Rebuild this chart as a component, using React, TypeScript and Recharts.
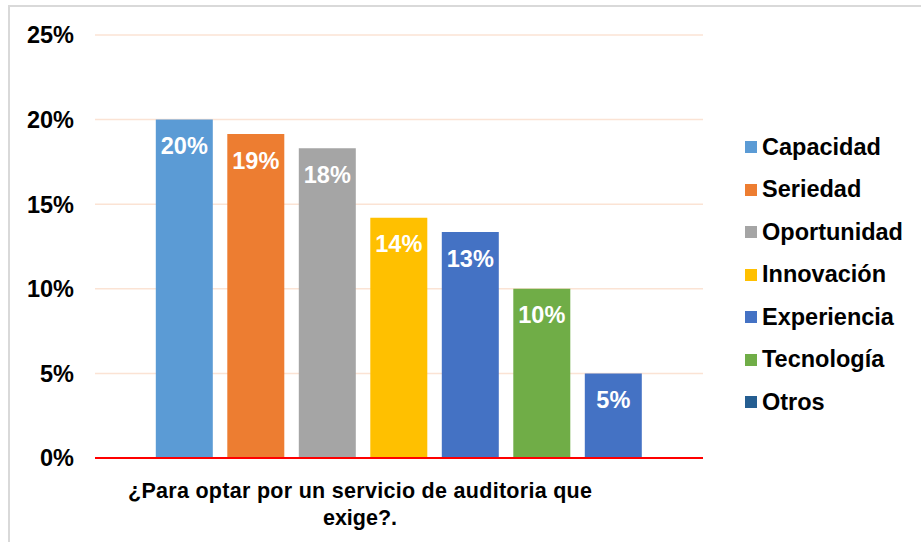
import { BarChart, Bar, XAxis, YAxis, CartesianGrid, LabelList } from "recharts";

const categoryLines = ["¿Para  optar  por un servicio  de  auditoria  que", "exige?."];
const seriesNames = ["Capacidad", "Seriedad", "Oportunidad", "Innovación", "Experiencia", "Tecnología", "Otros"];
const seriesValues = [20, 19.15, 18.3, 14.2, 13.35, 10, 5];
const barColors = ["#5b9bd5", "#ed7d31", "#a5a5a5", "#ffc000", "#4472c4", "#70ad47", "#4472c4"];
const legendColors = ["#5b9bd5", "#ed7d31", "#a5a5a5", "#ffc000", "#4472c4", "#70ad47", "#255e91"];
const yTicks = [0, 5, 10, 15, 20, 25];

const row: Record<string, string | number> = { name: categoryLines.join(" ") };
seriesNames.forEach((s, i) => {
  row[s] = seriesValues[i];
});
const data = [row];

const FONT = "'Liberation Sans', Arial, sans-serif";

const CategoryTick = (props: any) => {
  const { x, y } = props;
  return (
    <g>
      <text
        x={x - 39}
        y={y + 32}
        textAnchor="middle"
        fontFamily={FONT}
        fontWeight="bold"
        fontSize={21.5}
        fill="#000"
        textLength={464}
        lengthAdjust="spacing"
      >
        {categoryLines[0]}
      </text>
      <text x={x - 39} y={y + 59} textAnchor="middle" fontFamily={FONT} fontWeight="bold" fontSize={21.5} fill="#000">
        {categoryLines[1]}
      </text>
    </g>
  );
};

export default function App() {
  return (
    <div style={{ position: "absolute", left: 0, top: 0, width: 921, height: 542, overflow: "hidden", background: "#fff" }}>
      <div
        style={{
          position: "absolute",
          left: 8,
          top: 5,
          width: 940,
          height: 560,
          border: "2px solid #d9d9d9",
          boxSizing: "border-box",
        }}
      />
      <div style={{ position: "absolute", left: 0, top: 0 }}>
        <BarChart
          width={921}
          height={542}
          data={data}
          margin={{ top: 35, right: 218, left: 10, bottom: 14 }}
          barCategoryGap="10%"
          barGap={14.5}
        >
          <CartesianGrid vertical={false} stroke="#fbe3d4" strokeWidth={1.5} />
          <XAxis
            dataKey="name"
            height={70}
            axisLine={{ stroke: "#ff0000", strokeWidth: 2 }}
            tickLine={false}
            tick={<CategoryTick />}
          />
          <YAxis
            width={85}
            domain={[0, 25]}
            ticks={yTicks}
            axisLine={false}
            tickLine={false}
            tickMargin={15}
            tickFormatter={(v: number) => `${v}%`}
            tick={{ fontFamily: FONT, fontWeight: "bold", fontSize: 23.5, fill: "#000" }}
          />
          {seriesNames.map((s, i) => (
            <Bar key={s} dataKey={s} fill={barColors[i]} isAnimationActive={false}>
              <LabelList
                dataKey={s}
                position="insideTop"
                offset={18}
                formatter={(v: any) => `${Math.round(Number(v))}%`}
                style={{ fontFamily: FONT, fontWeight: "bold", fontSize: 23.5, fill: "#fff" }}
              />
            </Bar>
          ))}
        </BarChart>
      </div>
      {seriesNames.map((s, i) => (
        <div
          key={s}
          style={{
            position: "absolute",
            left: 745,
            top: 147 + i * 42.5 - 15,
            height: 30,
            display: "flex",
            alignItems: "center",
            fontFamily: FONT,
            fontWeight: "bold",
            fontSize: 23.5,
            color: "#000",
            whiteSpace: "nowrap",
          }}
        >
          <span style={{ display: "inline-block", width: 12, height: 12, background: legendColors[i], marginRight: 5 }} />
          {s}
        </div>
      ))}
    </div>
  );
}
